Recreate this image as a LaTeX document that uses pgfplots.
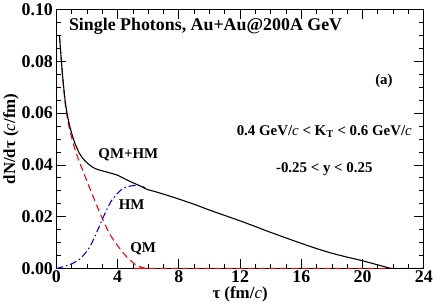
\documentclass[border=0pt]{standalone}
\usepackage{fontspec}
\setmainfont{Liberation Serif}
\usepackage{pgfplots}
\pgfplotsset{compat=1.18}
\newcommand{\ic}{{\mdseries\itshape c}}
\begin{document}
\begin{tikzpicture}
\begin{axis}[
  scale only axis, width=370bp, height=261bp,
  xmin=0, xmax=24, ymin=0, ymax=0.1,
  xtick={0,4,8,12,16,20,24},
  ytick={0,0.02,0.04,0.06,0.08,0.1},
  minor x tick num=3, minor y tick num=3,
  tick align=inside, xtick pos=both, ytick pos=both,
  major tick length=10bp, minor tick length=5bp,
  axis line style={line width=0.8bp},
  every tick/.style={line width=0.7bp, black},
  scaled y ticks=false,
  yticklabel style={/pgf/number format/.cd, fixed, fixed zerofill, precision=2},
  /pgf/number format/assume math mode=true,
  ticklabel style={font=\fontsize{18bp}{18bp}\selectfont\bfseries},
  xticklabel style={yshift=1bp},
  xlabel={\fontsize{17bp}{17bp}\selectfont\bfseries τ (fm/\ic)},
  ylabel={\fontsize{17bp}{17bp}\selectfont\bfseries dN/dτ (\ic/fm)},
  xlabel style={yshift=3bp},
  ylabel style={yshift=-4bp},
  clip=true,
]
% QM (red dashed)
\addplot[red, line width=1.1bp, dash pattern=on 7bp off 4bp, smooth, tension=0.4] coordinates {
(0.2,0.0900) (0.4,0.0745) (0.6,0.0625) (0.8,0.0555) (1.0,0.0505) (1.2,0.0463)
(1.5,0.0412) (1.8,0.0367) (2.1,0.0322) (2.4,0.0278) (2.7,0.0235) (3.0,0.0193)
(3.3,0.0155) (3.6,0.0122) (4.0,0.0088) (4.4,0.0058) (4.8,0.0033) (5.2,0.0014)
(5.5,0.0006) (5.8,0.0001) (6.0,0.0) (24,0.0)};
% HM (blue dash-dot)
\addplot[blue, line width=1.1bp, dash pattern=on 7bp off 3bp on 1.5bp off 3bp, smooth, tension=0.4] coordinates {
(0.0,0.0000) (0.5,0.0008) (1.0,0.0018) (1.5,0.0035) (1.84,0.0056) (2.2,0.0085)
(2.5,0.0122) (2.8,0.0162) (3.0,0.0190) (3.3,0.0228) (3.6,0.0262) (3.9,0.0284)
(4.2,0.0302) (4.5,0.0313) (4.9,0.0319) (5.3,0.0321) (5.6,0.0317) (5.8,0.0312)};
% QM+HM (black)
\addplot[black, line width=1.1bp, smooth, tension=0.4] coordinates {
(0.2,0.0900) (0.4,0.0748) (0.6,0.0635) (0.8,0.0568) (1.0,0.0522) (1.2,0.0485)
(1.5,0.0445) (1.8,0.0420) (2.1,0.0403) (2.4,0.0390) (2.7,0.0382) (3.0,0.0377)
(3.5,0.0369) (4.0,0.0360) (4.5,0.0345) (5.0,0.0331) (5.5,0.0318) (5.9,0.0306)
(6.5,0.0296) (7.0,0.0287) (7.7,0.0274) (8.5,0.0258) (9.0,0.0248) (9.8,0.0230)
(10.7,0.0211) (12.0,0.0184) (13.0,0.0162) (13.7,0.0146) (15.0,0.0118) (16.1,0.0095)
(17.0,0.0077) (18.0,0.0059) (19.0,0.0044) (20.0,0.0030) (21.0,0.0014) (21.5,0.0006)
(22.0,0.0000) (24.0,0.0000)};
\node[anchor=west, font=\fontsize{18bp}{18bp}\selectfont\bfseries] at (axis cs:0.6,0.0935) {Single Photons, Au+Au@200A GeV};
\node[font=\fontsize{15bp}{15bp}\selectfont\bfseries] at (axis cs:21.4,0.0724) {(a)};
\node[font=\fontsize{15bp}{15bp}\selectfont\bfseries] at (axis cs:17.5,0.0529) {0.4 GeV/\ic{} < K\textsubscript{T} < 0.6 GeV/\ic};
\node[font=\fontsize{15bp}{15bp}\selectfont\bfseries] at (axis cs:17.5,0.0383) {-0.25 < y < 0.25};
\node[font=\fontsize{15bp}{15bp}\selectfont\bfseries] at (axis cs:4.7,0.0439) {QM+HM};
\node[font=\fontsize{15bp}{15bp}\selectfont\bfseries] at (axis cs:4.92,0.0248) {HM};
\node[font=\fontsize{15bp}{15bp}\selectfont\bfseries] at (axis cs:5.67,0.0075) {QM};
\end{axis}
\end{tikzpicture}
\end{document}
